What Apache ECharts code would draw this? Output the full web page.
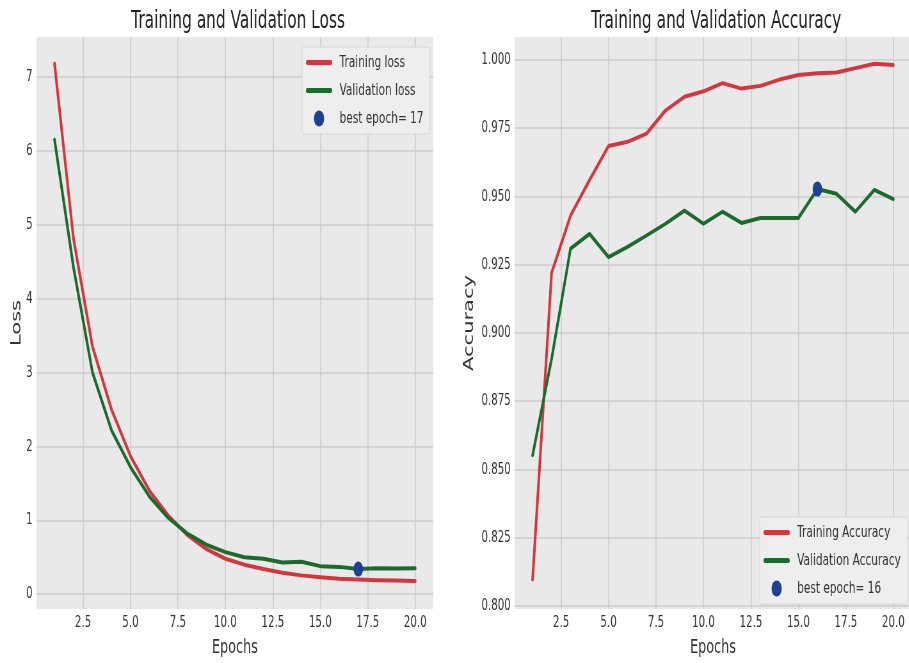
<!DOCTYPE html>
<html>
<head>
<meta charset="utf-8">
<script src="https://cdn.jsdelivr.net/npm/echarts@6/dist/echarts.min.js"></script>
<style>
  html, body { margin: 0; padding: 0; background: #ffffff; overflow: hidden; }
  #wrap { width: 909px; height: 663px; overflow: hidden; }
  /* the figure is laid out wide and narrowed horizontally */
  #chart { width: 1424px; height: 663px; transform: scaleX(0.64); transform-origin: 0 0; }
</style>
</head>
<body>
<div id="wrap"><div id="chart"></div></div>
<script>
// Training history, one value per epoch
const epochs = [1, 2, 3, 4, 5, 6, 7, 8, 9, 10, 11, 12, 13, 14, 15, 16, 17, 18, 19, 20];
const trainLoss = [7.18, 4.81, 3.35, 2.50, 1.87, 1.40, 1.06, 0.80, 0.61, 0.48,
                   0.40, 0.34, 0.29, 0.255, 0.23, 0.21, 0.20, 0.19, 0.185, 0.18];
const valLoss = [6.15, 4.42, 3.00, 2.22, 1.72, 1.32, 1.03, 0.82, 0.67, 0.57,
                 0.50, 0.48, 0.43, 0.44, 0.38, 0.37, 0.34, 0.35, 0.348, 0.35];
const trainAcc = [0.8097, 0.922, 0.943, 0.956, 0.9685, 0.970, 0.973, 0.9815, 0.9865, 0.9885,
                  0.9915, 0.9895, 0.9905, 0.9928, 0.9945, 0.9951, 0.9954, 0.997, 0.9986, 0.9981];
const valAcc = [0.8552, 0.8905, 0.9309, 0.9363, 0.9278, 0.9315, 0.9357, 0.9400, 0.9448, 0.9400,
                0.9444, 0.9403, 0.9421, 0.9421, 0.9421, 0.9527, 0.9510, 0.9444, 0.9524, 0.9490];

// Tick values
const epochTicks = [2.5, 5.0, 7.5, 10.0, 12.5, 15.0, 17.5, 20.0];
const lossTicks = [0, 1, 2, 3, 4, 5, 6, 7];
const accTicks = [0.800, 0.825, 0.850, 0.875, 0.900, 0.925, 0.950, 0.975, 1.000];

// Best epochs: lowest validation loss, highest validation accuracy
const bestLossIdx = valLoss.indexOf(Math.min(...valLoss));
const bestAccIdx = valAcc.indexOf(Math.max(...valAcc));
const bestLossLabel = 'best epoch= ' + epochs[bestLossIdx];
const bestAccLabel = 'best epoch= ' + epochs[bestAccIdx];

const FONT = 'DejaVu Sans';
const RED = '#d2373e';
const GREEN = '#1b6b2c';
const BLUE = '#1f4192';
const TEXT = '#333333';

function pairs(ys) { return epochs.map((e, i) => [e, ys[i]]); }

function xAxis(gridIndex) {
  return {
    type: 'value', gridIndex: gridIndex, min: 0.05, max: 20.95,
    name: 'Epochs', nameLocation: 'middle', nameGap: 29,
    nameTextStyle: { fontFamily: FONT, fontSize: 20, color: TEXT },
    axisLine: { show: false },
    axisTick: { show: false, customValues: epochTicks },
    axisLabel: { customValues: epochTicks, formatter: v => v.toFixed(1),
                 fontFamily: FONT, fontSize: 16, color: TEXT, margin: 6 },
    splitLine: { show: true, lineStyle: { color: '#cbcbcb', width: 1.6 } }
  };
}

function yAxis(gridIndex, min, max, ticks, digits, name, gap) {
  return {
    type: 'value', gridIndex: gridIndex, min: min, max: max,
    name: name, nameLocation: 'middle', nameRotate: 90, nameGap: gap,
    nameTextStyle: { fontFamily: FONT, fontSize: 21, color: TEXT },
    axisLine: { show: false },
    axisTick: { show: false, customValues: ticks },
    axisLabel: { customValues: ticks, formatter: v => v.toFixed(digits),
                 fontFamily: FONT, fontSize: 16, color: TEXT, margin: 6 },
    splitLine: { show: true, lineStyle: { color: '#cbcbcb', width: 1.6 } }
  };
}

function lineSeries(name, ys, color, axis) {
  return {
    type: 'line', name: name, data: pairs(ys), xAxisIndex: axis, yAxisIndex: axis,
    symbol: 'none', smooth: false, z: 3,
    lineStyle: { color: color, width: 4, cap: 'round', join: 'round' },
    itemStyle: { color: color }
  };
}

// Line entries show only a thick stroke; the marker entry shows the dot
function legend(left, top, lineNames, dotName) {
  return {
    orient: 'vertical', left: left, top: top,
    itemWidth: 36, itemHeight: 16, itemGap: 11,
    padding: [7, 10, 7, 6],
    backgroundColor: '#eeeeee', borderColor: '#d6d6d6', borderWidth: 1, borderRadius: 3,
    lineStyle: { width: 5 },
    textStyle: { fontFamily: FONT, fontSize: 16.5, color: TEXT, padding: [0, 0, 0, 9] },
    data: lineNames.map(n => ({ name: n, itemStyle: { opacity: 0 } }))
      .concat([{ name: dotName, itemStyle: { opacity: 1 } }])
  };
}

function bestPoint(name, x, y, axis) {
  return {
    type: 'scatter', name: name, xAxisIndex: axis, yAxisIndex: axis, z: 5,
    symbolSize: 15, itemStyle: { color: BLUE, opacity: 1 },
    data: [[x, y]]
  };
}

const chart = echarts.init(document.getElementById('chart'), null, { renderer: 'canvas' });
chart.setOption({
  backgroundColor: '#ffffff',
  animation: false,
  title: [
    { text: 'Training and Validation Loss', left: 367, top: 5, textAlign: 'center',
      textStyle: { fontFamily: FONT, fontSize: 24, fontWeight: 'normal', color: '#222' } },
    { text: 'Training and Validation Accuracy', left: 1114, top: 5, textAlign: 'center',
      textStyle: { fontFamily: FONT, fontSize: 24, fontWeight: 'normal', color: '#222' } }
  ],
  grid: [
    { left: 57, top: 37, width: 620, height: 576, show: true,
      backgroundColor: '#e9e9e9', borderWidth: 0 },
    { left: 804, top: 37, width: 620, height: 576, show: true,
      backgroundColor: '#e9e9e9', borderWidth: 0 }
  ],
  xAxis: [xAxis(0), xAxis(1)],
  yAxis: [
    yAxis(0, -0.2, 7.54, lossTicks, 0, 'Loss', 18),
    yAxis(1, 0.7989, 1.0084, accTicks, 3, 'Accuracy', 60)
  ],
  legend: [
    legend(472, 47, ['Training loss', 'Validation loss'], bestLossLabel),
    legend(1187, 517, ['Training Accuracy', 'Validation Accuracy'], bestAccLabel)
  ],
  series: [
    lineSeries('Training loss', trainLoss, RED, 0),
    lineSeries('Validation loss', valLoss, GREEN, 0),
    bestPoint(bestLossLabel, epochs[bestLossIdx], valLoss[bestLossIdx], 0),
    lineSeries('Training Accuracy', trainAcc, RED, 1),
    lineSeries('Validation Accuracy', valAcc, GREEN, 1),
    bestPoint(bestAccLabel, epochs[bestAccIdx], valAcc[bestAccIdx], 1)
  ]
});
</script>
</body>
</html>
